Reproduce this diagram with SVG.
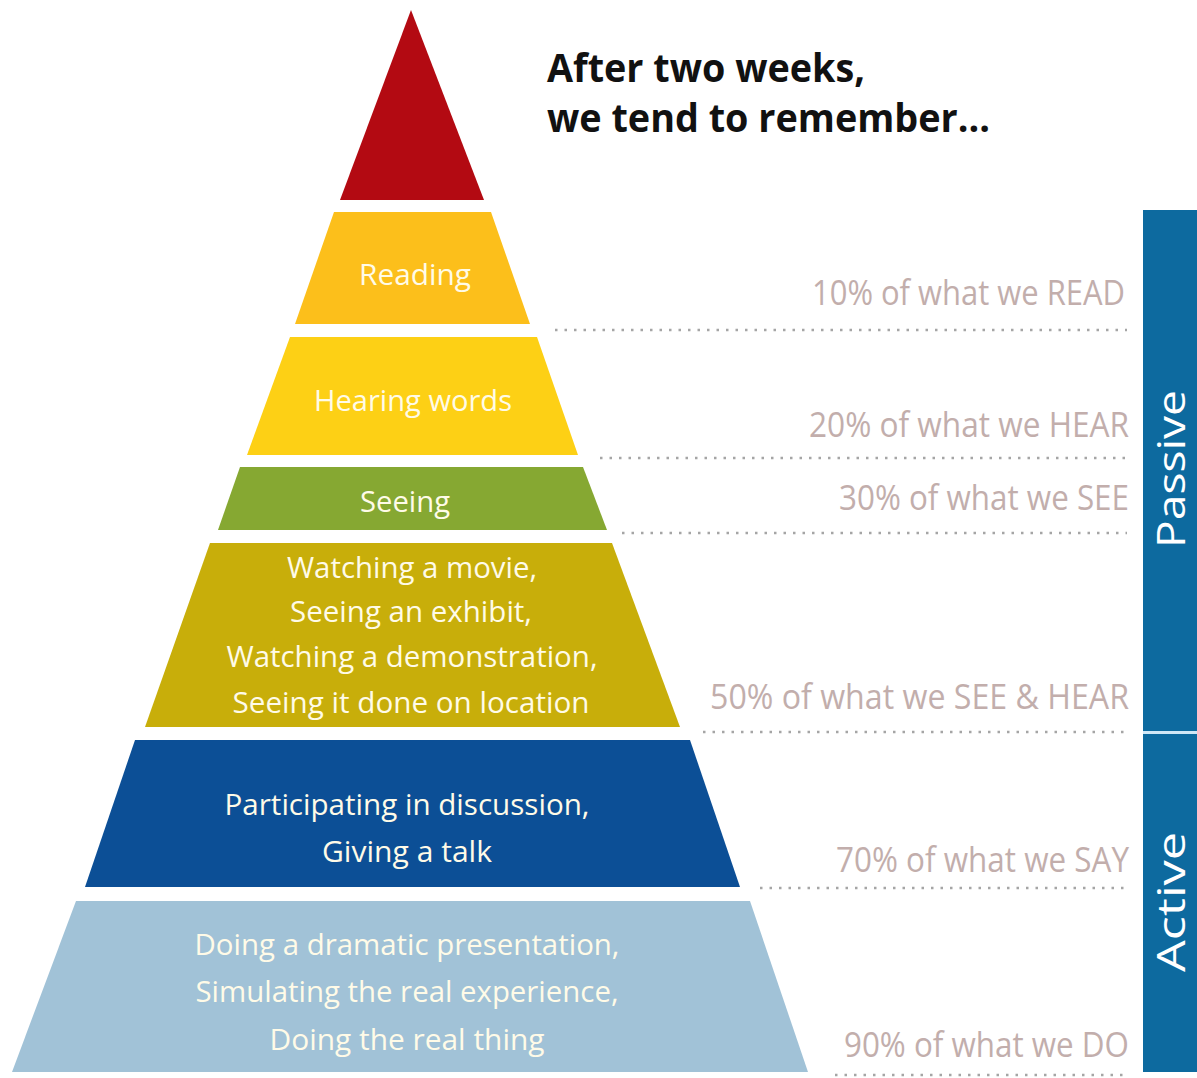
<svg xmlns="http://www.w3.org/2000/svg" width="1197" height="1078" viewBox="0 0 1197 1078">
<style>
.tier{font-family:"Open Sans","Liberation Sans",sans-serif;font-size:30px;fill:#FFFBE8;text-anchor:middle}
.pct{font-family:"Open Sans","Liberation Sans",sans-serif;font-size:34px;fill:#C2AEAC;text-anchor:end}
.title{font-family:"Open Sans","Liberation Sans",sans-serif;font-size:40px;font-weight:bold;fill:#111}
.side{font-family:"Open Sans","Liberation Sans",sans-serif;font-size:39px;fill:#FFFFFF;text-anchor:middle}
.dots{stroke:#A5A5A5;stroke-width:2.5;stroke-dasharray:2.5 7;fill:none}
</style>
<rect width="1197" height="1078" fill="#FFFFFF"/>

<g id="title">
<text class="title" x="547" y="82" textLength="318" lengthAdjust="spacingAndGlyphs">After two weeks,</text>
<text class="title" x="547" y="132" textLength="443" lengthAdjust="spacingAndGlyphs">we tend to remember...</text>
</g>

<g id="tier-top">
<polygon points="411,10 484,200 340,200" fill="#B30A12"/>
</g>
<g id="tier-reading">
<polygon points="334,212 491,212 530,324 295,324" fill="#FCBF1B"/>
<text class="tier" x="415" y="285" textLength="112" lengthAdjust="spacingAndGlyphs">Reading</text>
</g>
<g id="tier-hearing">
<polygon points="290,337 537,337 578,455 247,455" fill="#FDD015"/>
<text class="tier" x="413" y="411" textLength="198" lengthAdjust="spacingAndGlyphs">Hearing words</text>
</g>
<g id="tier-seeing">
<polygon points="240,467 583,467 607,530 218,530" fill="#86A832"/>
<text class="tier" x="405" y="512" textLength="90" lengthAdjust="spacingAndGlyphs">Seeing</text>
</g>
<g id="tier-watching">
<polygon points="210,543 612,543 680,727 145,727" fill="#C8AE0A"/>
<text class="tier" x="412" y="578" textLength="250" lengthAdjust="spacingAndGlyphs">Watching a movie,</text>
<text class="tier" x="411" y="622" textLength="242" lengthAdjust="spacingAndGlyphs">Seeing an exhibit,</text>
<text class="tier" x="412" y="667" textLength="371" lengthAdjust="spacingAndGlyphs">Watching a demonstration,</text>
<text class="tier" x="411" y="713" textLength="357" lengthAdjust="spacingAndGlyphs">Seeing it done on location</text>
</g>
<g id="tier-participating">
<polygon points="135,740 690,740 740,887 85,887" fill="#0C4F96"/>
<text class="tier" x="407" y="815" textLength="365" lengthAdjust="spacingAndGlyphs">Participating in discussion,</text>
<text class="tier" x="407" y="862" textLength="170" lengthAdjust="spacingAndGlyphs">Giving a talk</text>
</g>
<g id="tier-doing">
<polygon points="76,901 750,901 808,1072 12,1072" fill="#A1C2D7"/>
<text class="tier" x="407" y="955" textLength="425" lengthAdjust="spacingAndGlyphs">Doing a dramatic presentation,</text>
<text class="tier" x="407" y="1002" textLength="423" lengthAdjust="spacingAndGlyphs">Simulating the real experience,</text>
<text class="tier" x="407" y="1050" textLength="275" lengthAdjust="spacingAndGlyphs">Doing the real thing</text>
</g>

<g id="connectors">
<line class="dots" x1="555" y1="330" x2="1127" y2="330"/>
<line class="dots" x1="600" y1="458" x2="1127" y2="458"/>
<line class="dots" x1="622" y1="533" x2="1127" y2="533"/>
<line class="dots" x1="703" y1="732" x2="1127" y2="732"/>
<line class="dots" x1="760" y1="888" x2="1127" y2="888"/>
<line class="dots" x1="835" y1="1075" x2="1127" y2="1075"/>
</g>

<g id="labels">
<text class="pct" x="1125" y="305" textLength="313" lengthAdjust="spacingAndGlyphs">10% of what we READ</text>
<text class="pct" x="1129" y="437" textLength="320" lengthAdjust="spacingAndGlyphs">20% of what we HEAR</text>
<text class="pct" x="1129" y="510" textLength="290" lengthAdjust="spacingAndGlyphs">30% of what we SEE</text>
<text class="pct" x="1129" y="709" textLength="419" lengthAdjust="spacingAndGlyphs">50% of what we SEE &amp; HEAR</text>
<text class="pct" x="1129" y="872" textLength="293" lengthAdjust="spacingAndGlyphs">70% of what we SAY</text>
<text class="pct" x="1129" y="1057" textLength="285" lengthAdjust="spacingAndGlyphs">90% of what we DO</text>
</g>

<g id="side-passive">
<rect x="1143" y="210" width="54" height="521" fill="#0D6A9F"/>
<text class="side" transform="translate(1185,469) rotate(-90)" textLength="158" lengthAdjust="spacingAndGlyphs">Passive</text>
</g>
<g id="side-active">
<rect x="1143" y="734" width="54" height="338" fill="#0D6A9F"/>
<text class="side" transform="translate(1185,902) rotate(-90)" textLength="140" lengthAdjust="spacingAndGlyphs">Active</text>
</g>
<line x1="1143" y1="732.5" x2="1197" y2="732.5" stroke="#CFE7F6" stroke-width="3"/>
</svg>
